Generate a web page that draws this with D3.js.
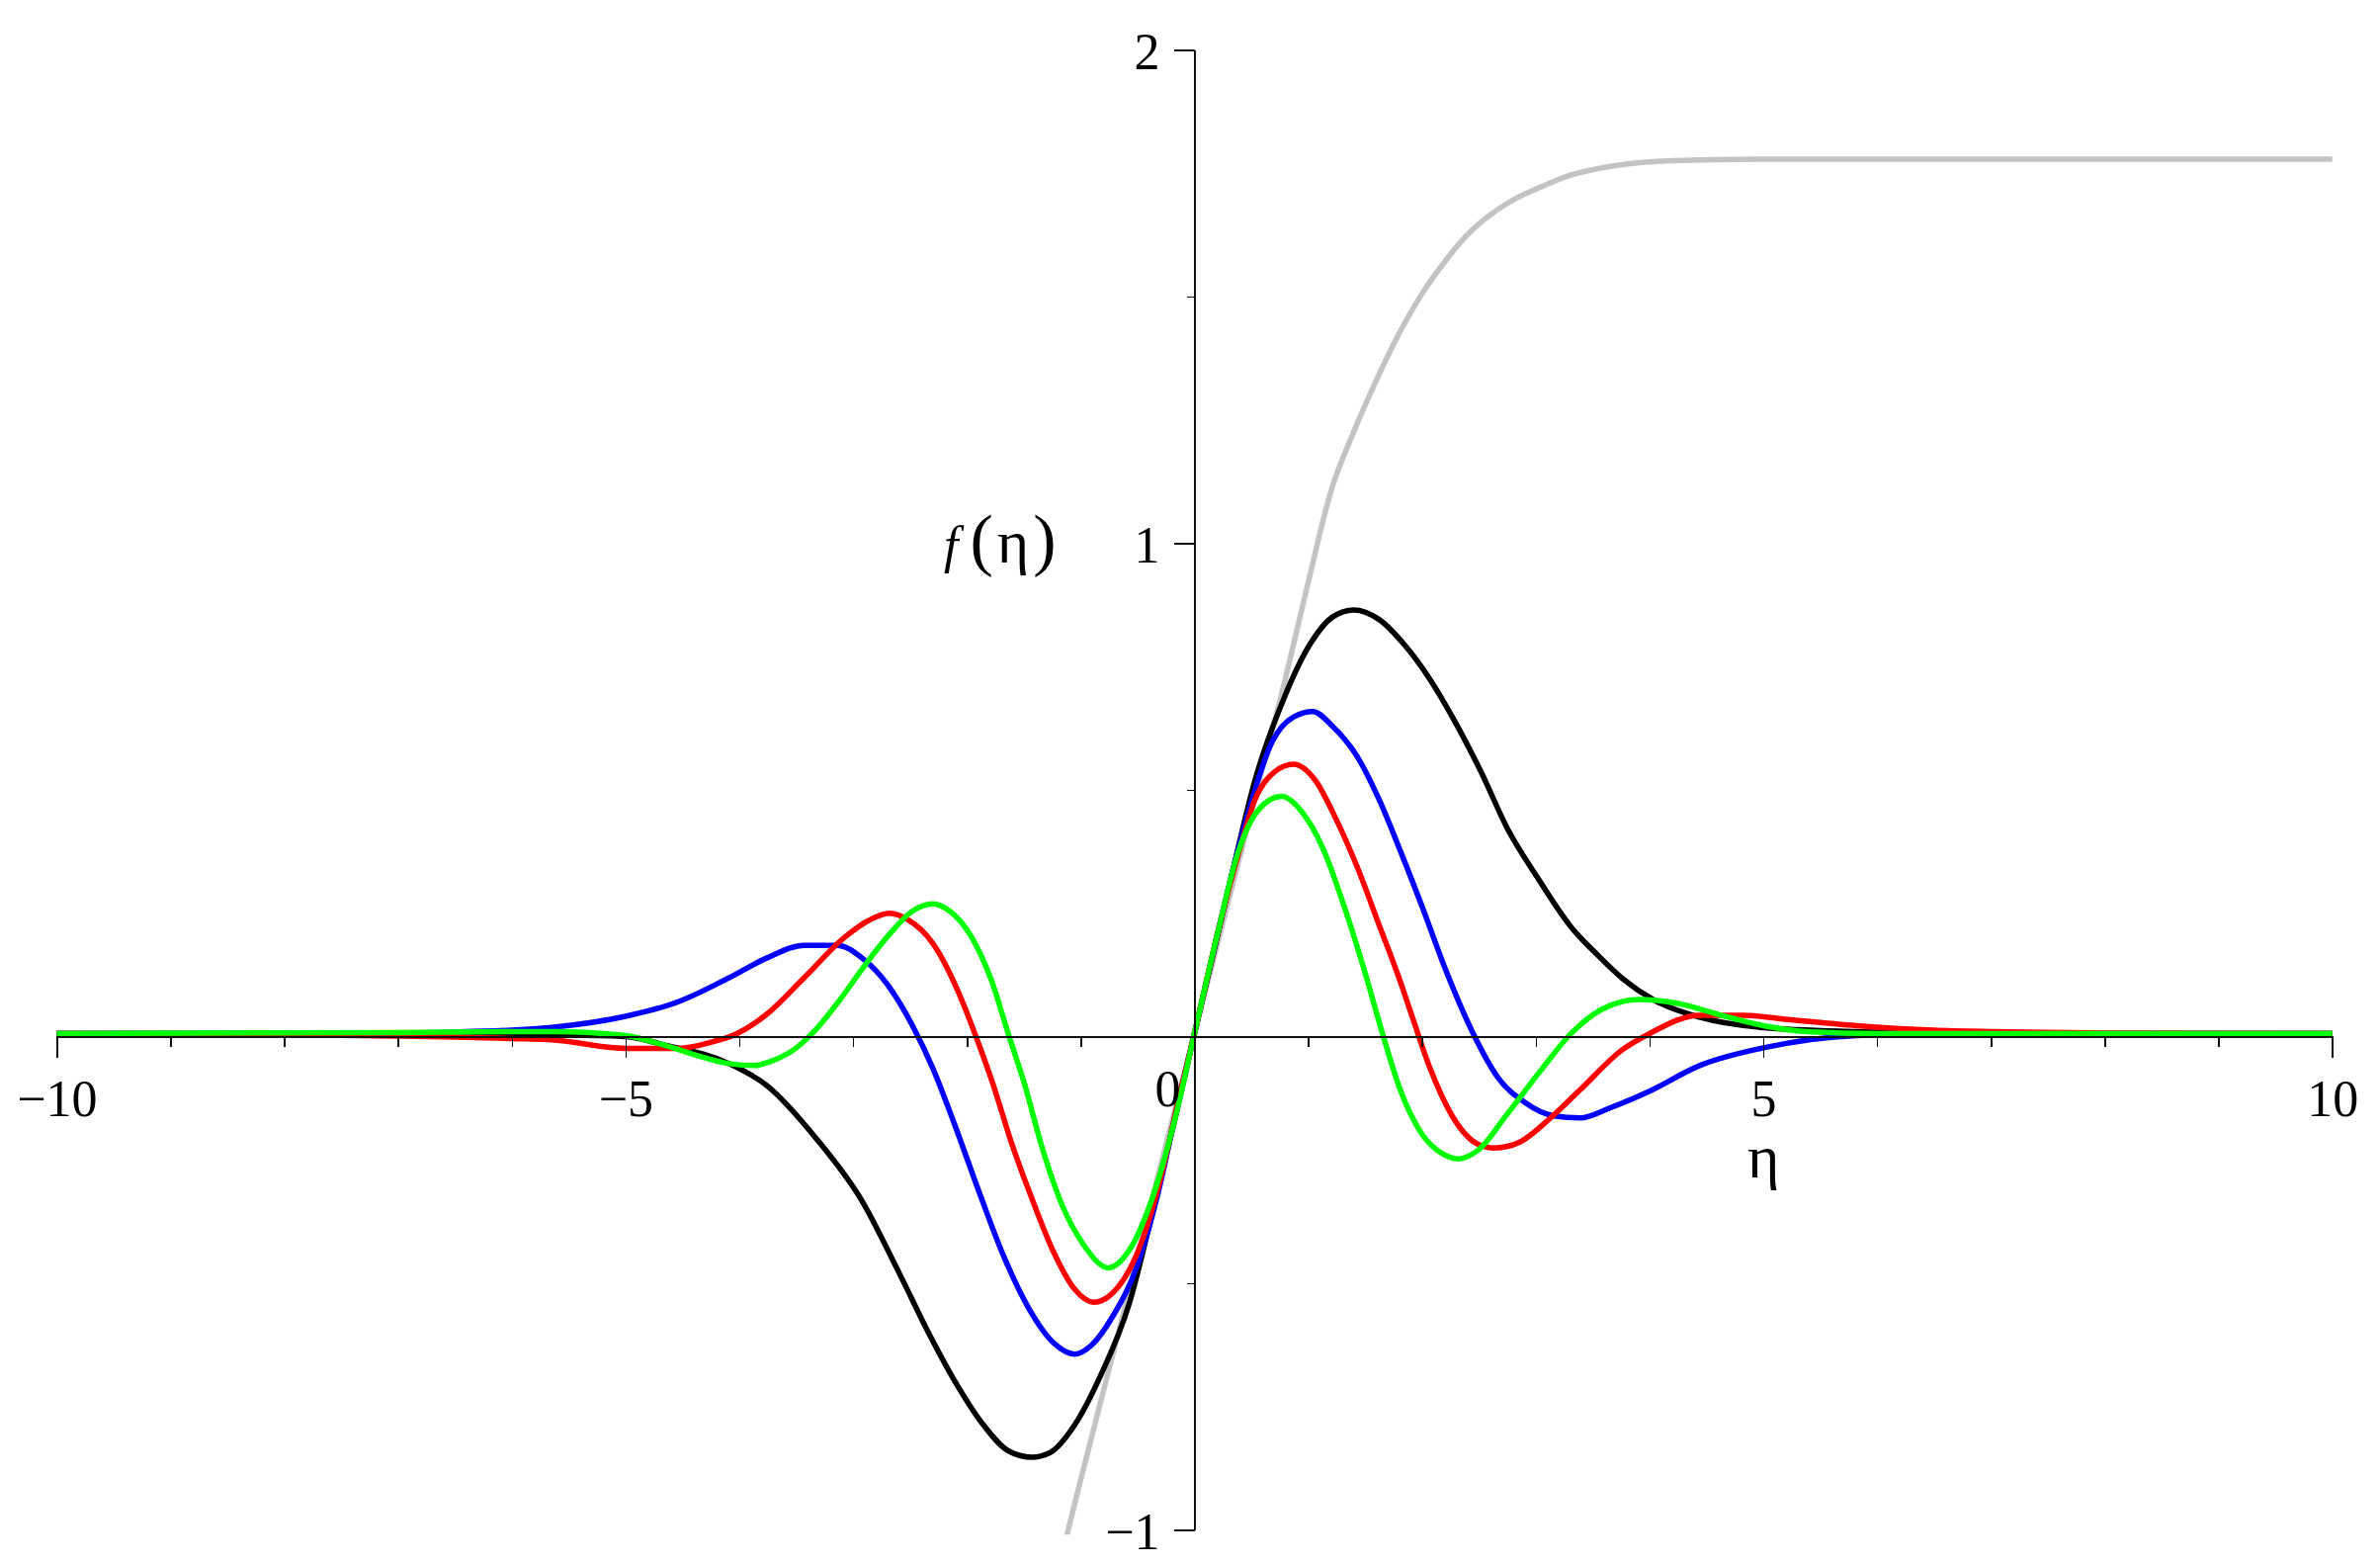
<!DOCTYPE html>
<html>
<head>
	<meta charset="utf-8">
	<style>
		body {
			margin: 0;
			background: #fff;
		}
		svg text {
			font-family: "Liberation Serif", "Times New Roman", serif;
			font-size: 52px;
			fill: #000;
		}
		.axis path, .axis line {
			stroke: #111;
			stroke-width: 1.5px;
			shape-rendering: crispEdges;
		}
		.curve {
			fill: none;
			stroke-width: 5.5px;
			stroke-linejoin: round;
		}
	</style>
	<script src="https://cdn.jsdelivr.net/npm/d3@7"></script>
</head>
<body>
	<script>
		// values, [eta, f(eta)]
		var grayCurve = [
			[-1.2, -1.09], [-1.0, -0.905], [-0.8, -0.725], [-0.6, -0.545], [-0.4, -0.36],
			[-0.2, -0.18], [0, 0], [0.2, 0.18], [0.4, 0.36], [0.6, 0.54], [0.8, 0.72],
			[1.0, 0.915], [1.2, 1.10], [1.4, 1.22], [1.6, 1.325], [1.8, 1.42], [2.0, 1.50],
			[2.2, 1.565], [2.4, 1.62], [2.6, 1.66], [2.8, 1.69], [3.0, 1.712], [3.3, 1.74],
			[3.7, 1.76], [4.2, 1.77], [5.0, 1.773], [10, 1.773]
		];
		var blackCurve = [
			[-10, 0], [-7, 0], [-6, -0.002], [-5.5, -0.003], [-5, -0.006], [-4.68, -0.022],
			[-4.09, -0.061], [-3.76, -0.105], [-3.32, -0.214], [-2.92, -0.34], [-2.59, -0.488],
			[-2.33, -0.61], [-2.08, -0.715], [-1.857, -0.793], [-1.637, -0.846], [-1.43, -0.859],
			[-1.271, -0.85], [-1.051, -0.793], [-0.832, -0.697], [-0.575, -0.549], [-0.355, -0.349],
			[-0.172, -0.174], [0, 0], [0.308, 0.302], [0.533, 0.514], [0.796, 0.685], [1.02, 0.791],
			[1.21, 0.844], [1.40, 0.859], [1.62, 0.84], [1.85, 0.787], [2.07, 0.718], [2.30, 0.628],
			[2.52, 0.53], [2.75, 0.416], [3.01, 0.318], [3.31, 0.216], [3.54, 0.16], [3.76, 0.112],
			[4.03, 0.069], [4.44, 0.033], [5.0, 0.012], [5.82, 0.004], [6.5, 0.001], [7, 0], [10, 0]
		];
		var blueCurve = [
			[-10, 0], [-7, 0.001], [-6.5, 0.003], [-6, 0.007], [-5.63, 0.013], [-5, 0.035],
			[-4.53, 0.065], [-4.09, 0.113], [-3.76, 0.153], [-3.43, 0.179], [-3.14, 0.179],
			[-2.92, 0.153], [-2.70, 0.10], [-2.48, 0.017], [-2.30, -0.07], [-2.11, -0.183],
			[-1.89, -0.323], [-1.674, -0.453], [-1.454, -0.558], [-1.234, -0.628], [-1.051, -0.65],
			[-0.905, -0.632], [-0.722, -0.575], [-0.502, -0.47], [-0.319, -0.323], [-0.136, -0.131],
			[0, 0], [0.2, 0.2], [0.45, 0.43], [0.684, 0.592], [0.872, 0.642], [1.04, 0.653],
			[1.21, 0.624], [1.435, 0.56], [1.62, 0.476], [1.81, 0.37], [2.0, 0.258], [2.22, 0.122],
			[2.45, 0], [2.67, -0.09], [2.90, -0.139], [3.16, -0.167], [3.39, -0.171], [3.65, -0.151],
			[3.99, -0.118], [4.44, -0.065], [5.0, -0.029], [5.82, -0.004], [6.5, -0.001], [7, 0], [10, 0]
		];
		var redCurve = [
			[-10, 0], [-8, -0.002], [-7, -0.005], [-6.5, -0.007], [-6, -0.01], [-5.63, -0.013],
			[-5, -0.03], [-4.53, -0.03], [-4.24, -0.017], [-4.02, 0], [-3.76, 0.039], [-3.43, 0.113],
			[-3.07, 0.196], [-2.85, 0.231], [-2.68, 0.244], [-2.52, 0.231], [-2.30, 0.183],
			[-2.08, 0.087], [-1.93, 0], [-1.78, -0.096], [-1.60, -0.227], [-1.42, -0.34],
			[-1.234, -0.445], [-1.051, -0.519], [-0.886, -0.545], [-0.722, -0.527], [-0.502, -0.445],
			[-0.319, -0.314], [-0.136, -0.131], [0, 0], [0.2, 0.2], [0.4, 0.375], [0.533, 0.475],
			[0.7, 0.53], [0.872, 0.546], [1.06, 0.514], [1.25, 0.432], [1.435, 0.335], [1.62, 0.222],
			[1.81, 0.105], [1.92, 0.03], [2.07, -0.07], [2.26, -0.165], [2.49, -0.224], [2.64, -0.232],
			[2.86, -0.22], [3.13, -0.171], [3.39, -0.114], [3.76, -0.033], [4.0, 0], [4.44, 0.037],
			[4.82, 0.037], [5.19, 0.029], [5.82, 0.016], [6.5, 0.007], [7, 0.004], [8, 0.001], [10, 0]
		];
		var greenCurve = [
			[-10, 0], [-7, 0.002], [-6, 0.004], [-5.63, 0.004], [-5, -0.004], [-4.68, -0.022],
			[-4.38, -0.044], [-4.09, -0.061], [-3.87, -0.065], [-3.73, -0.057], [-3.51, -0.031],
			[-3.36, 0], [-3.14, 0.061], [-2.92, 0.131], [-2.70, 0.196], [-2.48, 0.248], [-2.30, 0.263],
			[-2.15, 0.248], [-1.97, 0.20], [-1.78, 0.105], [-1.637, 0], [-1.49, -0.105],
			[-1.344, -0.227], [-1.161, -0.349], [-0.978, -0.427], [-0.758, -0.475], [-0.575, -0.44],
			[-0.355, -0.323], [-0.172, -0.174], [0, 0], [0.2, 0.2], [0.383, 0.367], [0.55, 0.45],
			[0.766, 0.481], [0.947, 0.449], [1.13, 0.375], [1.32, 0.255], [1.51, 0.115], [1.64, 0.01],
			[1.81, -0.115], [2.0, -0.204], [2.19, -0.245], [2.32, -0.254], [2.49, -0.237],
			[2.75, -0.163], [3.05, -0.073], [3.31, 0], [3.58, 0.049], [3.91, 0.069], [4.25, 0.061],
			[4.63, 0.037], [5.0, 0.016], [5.38, 0.004], [6, 0], [10, 0]
		];

		var series = [
			{name: 'gray', color: '#c3c3c3', values: grayCurve},
			{name: 'black', color: '#000000', values: blackCurve},
			{name: 'blue', color: '#0000ff', values: blueCurve},
			{name: 'red', color: '#ff0000', values: redCurve},
			{name: 'green', color: '#00ff00', values: greenCurve}
		];

		var xDomain = [-10, 10],
			yDomain = [-1, 2],
			xMajorTicks = [-10, -5, 5, 10],
			xMinorTicks = d3.range(-10, 11).filter(d => d % 5 !== 0),
			yMajorTicks = [-1, 1, 2],
			yMinorTicks = [-0.5, 0.5, 1.5],
			xLabel = 'η',
			yLabelFn = 'f',
			yLabelArg = '(η)';

		var width = 2408, height = 1582;

		var x = d3.scaleLinear().domain(xDomain).range([57.3, 2359.7]);
		var y = d3.scaleLinear().domain(yDomain).range([1547.3, 50.7]);

		var svg = d3.select('body').append('svg')
			.attr('width', width)
			.attr('height', height);

		svg.append('rect')
			.attr('width', width)
			.attr('height', height)
			.attr('fill', '#fff');

		svg.append('defs').append('clipPath')
			.attr('id', 'plotclip')
		  .append('rect')
			.attr('x', x(-10) - 2)
			.attr('y', y(2) - 4)
			.attr('width', x(10) - x(-10) + 4)
			.attr('height', y(-1) - y(2) + 9);

		var line = d3.line()
			.x(d => x(d[0]))
			.y(d => y(d[1]))
			.curve(d3.curveMonotoneX);

		// curves sit a hair above the axis in the original export
		var curves = svg.append('g')
			.attr('clip-path', 'url(#plotclip)')
		  .append('g')
			.attr('transform', 'translate(0, -3)');

		curves.selectAll('path')
			.data(series)
			.enter()
			.append('path')
			.attr('class', d => 'curve ' + d.name)
			.attr('stroke', d => d.color)
			.attr('stroke-width', d => d.name === 'gray' ? 6 : 5.5)
			.attr('d', d => line(d.values));

		// x axis through y = 0
		var x0 = y(0);
		svg.append('g')
			.attr('class', 'axis x minor')
			.attr('transform', 'translate(0,' + x0 + ')')
			.call(d3.axisBottom(x).tickValues(xMinorTicks).tickSize(11).tickSizeOuter(0).tickFormat(''));

		var xMajor = svg.append('g')
			.attr('class', 'axis x major')
			.attr('transform', 'translate(0,' + x0 + ')')
			.call(d3.axisBottom(x).tickValues(xMajorTicks).tickSize(22).tickSizeOuter(0)
				.tickFormat(d => d < 0 ? '\u2212' + Math.abs(d) : String(d)));
		xMajor.select('.domain').remove();
		xMajor.selectAll('text')
			.attr('y', 81)
			.attr('dy', 0)
			.attr('fill', '#000');

		// y axis through x = 0
		var y0 = x(0);
		svg.append('g')
			.attr('class', 'axis y minor')
			.attr('transform', 'translate(' + y0 + ',0)')
			.call(d3.axisLeft(y).tickValues(yMinorTicks).tickSize(8).tickSizeOuter(0).tickFormat(''));

		var yMajor = svg.append('g')
			.attr('class', 'axis y major')
			.attr('transform', 'translate(' + y0 + ',0)')
			.call(d3.axisLeft(y).tickValues(yMajorTicks).tickSize(21).tickSizeOuter(0)
				.tickFormat(d => d < 0 ? '\u2212' + Math.abs(d) : String(d)));
		yMajor.select('.domain').remove();
		yMajor.selectAll('text')
			.attr('x', -35)
			.attr('dy', '0.37em')
			.attr('fill', '#000');

		// shared origin label
		svg.append('text')
			.attr('x', y0 - 14)
			.attr('y', x0 + 71)
			.attr('text-anchor', 'end')
			.text('0');

		// axis titles
		svg.append('text')
			.attr('x', x(5))
			.attr('y', x0 + 143)
			.attr('text-anchor', 'middle')
			.style('font-size', '62px')
			.text(xLabel);

		var yTitle = svg.append('text')
			.attr('x', 955)
			.attr('y', y(1) + 19);
		yTitle.append('tspan')
			.attr('font-style', 'italic')
			.text(yLabelFn);
		yTitle.append('tspan')
			.attr('dx', 12)
			.style('font-size', '70px')
			.text(yLabelArg.charAt(0));
		yTitle.append('tspan')
			.attr('dx', 4)
			.style('font-size', '62px')
			.text(yLabelArg.charAt(1));
		yTitle.append('tspan')
			.attr('dx', 4)
			.style('font-size', '70px')
			.text(yLabelArg.charAt(2));
	</script>
</body>
</html>
